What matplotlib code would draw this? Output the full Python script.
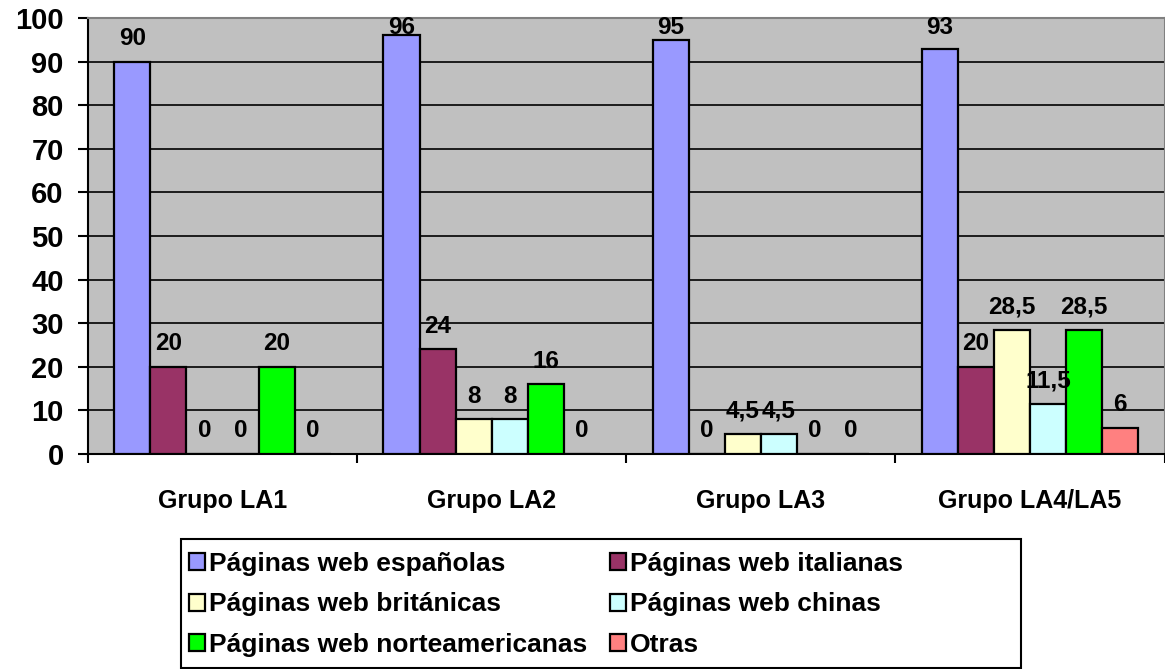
import matplotlib
matplotlib.use("Agg")
import matplotlib.pyplot as plt
import numpy as np
from matplotlib.patches import Rectangle

grupos = ["Grupo LA1", "Grupo LA2", "Grupo LA3", "Grupo LA4/LA5"]
series = ["Páginas web españolas", "Páginas web italianas", "Páginas web británicas",
          "Páginas web chinas", "Páginas web norteamericanas", "Otras"]
espanolas       = [90, 96, 95, 93]
italianas       = [20, 24, 0, 20]
britanicas      = [0, 8, 4.5, 28.5]
chinas          = [0, 8, 4.5, 11.5]
norteamericanas = [20, 16, 0, 28.5]
otras           = [0, 0, 0, 6]
colores = ["#9999FF", "#993366", "#FFFFCC", "#CCFFFF", "#00FF00", "#FF8080"]

valores = [espanolas, italianas, britanicas, chinas, norteamericanas, otras]

plt.rcParams['font.family'] = ['Liberation Sans', 'DejaVu Sans']
plt.rcParams['font.weight'] = 'bold'

W, H = 1165, 669
fig = plt.figure(figsize=(W/100, H/100), dpi=100)
ax = fig.add_axes([88/W, 1-454/H, (1164.5-88)/W, (454-18)/H])
ax.set_facecolor("#C0C0C0")

x = np.arange(len(grupos))
w = 0.134
barras = []
for k, (nombre, vals, col) in enumerate(zip(series, valores, colores)):
    pos = x + (k - 2.5)*w
    b = ax.bar(pos, vals, w, color=col, edgecolor="black", linewidth=1.6, label=nombre, zorder=3)
    barras.append(b)
    for px, v in zip(pos, vals):
        txt = ("%g" % v).replace(".", ",")
        # como en Excel, las etiquetas no salen por arriba del grafico
        ytxt = min(v + 5.3, 97.8)
        ax.text(px, ytxt, txt, ha="center", va="center", fontsize=17.5,
                fontweight="bold", zorder=4)

ax.set_ylim(0, 100)
ax.set_xlim(-0.5, 3.5)
ax.set_yticks(range(0, 101, 10))
ax.yaxis.grid(True, color="black", linewidth=1.2, zorder=0)
ax.set_axisbelow(True)
ax.tick_params(axis="y", direction="out", length=7.5, width=1.5, labelsize=21, pad=10)
ax.set_xticks(x)
ax.set_xticklabels(grupos, fontsize=18, fontweight="bold")
ax.set_xticks(np.arange(-0.5, 4, 1), minor=True)
ax.tick_params(axis="x", which="major", length=0, pad=25)
ax.tick_params(axis="x", which="minor", direction="out", length=6.5, width=1.5)
for lbl in ax.get_yticklabels():
    lbl.set_fontweight("bold")
ax.spines["left"].set_linewidth(1.5)
ax.spines["bottom"].set_linewidth(1.5)
ax.spines["top"].set_color("#808080")
ax.spines["top"].set_linewidth(1.5)
ax.spines["right"].set_color("#808080")
ax.spines["right"].set_linewidth(1.5)

# caja de la leyenda
fig.patches.append(Rectangle((181/W, 1-668/H), (1021-181)/W, (668-539)/H,
                             transform=fig.transFigure, facecolor="white",
                             edgecolor="black", linewidth=1.5))
orden = [0, 2, 4, 1, 3, 5]
leg = fig.legend([barras[i] for i in orden], [series[i] for i in orden], ncol=2,
                 loc="upper left", bbox_to_anchor=(189/W, 1-552/H), frameon=False,
                 fontsize=19, handlelength=0.62, handleheight=0.62, handletextpad=0.15,
                 columnspacing=0.85, labelspacing=0.62, borderpad=0, borderaxespad=0)

fig.savefig("out.png", dpi=100)
